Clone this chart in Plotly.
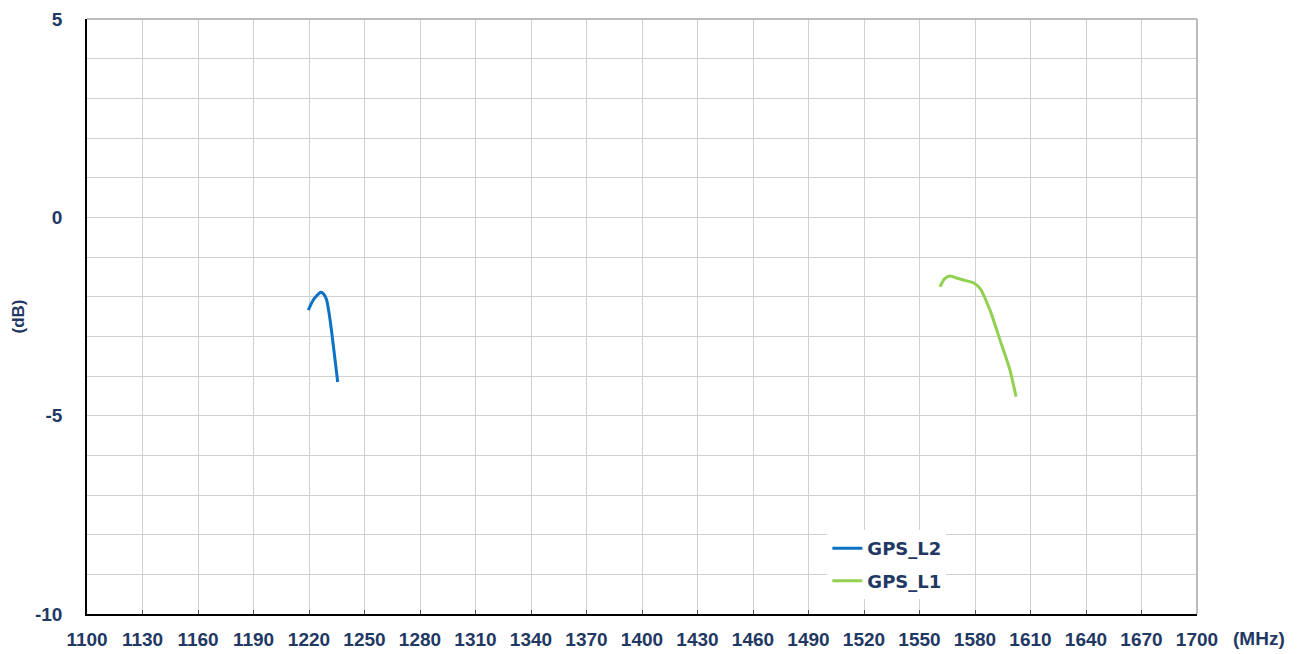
import plotly.graph_objects as go

l2_freq = [1219.6, 1222.5, 1226.3, 1228.0, 1229.5, 1231.4, 1235.5]
l2_db = [-2.34, -2.07, -1.89, -1.94, -2.08, -2.59, -4.15]

l1_freq = [1561.1, 1563.5, 1566.5, 1570.0, 1573.7, 1579.1, 1582.7, 1588.1, 1593.5, 1598.9, 1602.2]
l1_db = [-1.75, -1.55, -1.48, -1.53, -1.58, -1.65, -1.79, -2.34, -3.09, -3.85, -4.52]

x_ticks = list(range(1100, 1701, 30))
y_ticks = [5, 0, -5, -10]

text_color = "#1F3864"
grid_color = "#D0D0D0"
tick_font = dict(family="Liberation Sans, Arial, sans-serif", size=19, color=text_color, weight="bold")

fig = go.Figure()
fig.add_trace(go.Scatter(x=l2_freq, y=l2_db, mode="lines", name="GPS_L2", legendgroup="a",
                         line=dict(color="#0B72C4", width=3, shape="spline", smoothing=0.6)))
fig.add_trace(go.Scatter(x=l1_freq, y=l1_db, mode="lines", name="GPS_L1", legendgroup="b",
                         line=dict(color="#92D050", width=3, shape="spline", smoothing=0.6)))

# page body has an 8px margin, so the figure is sized and offset to compensate
fig.update_layout(
    width=1295, height=646,
    margin=dict(l=79, r=106, t=11, b=40),
    plot_bgcolor="white", paper_bgcolor="white",
    font=dict(family="Liberation Sans, Arial, sans-serif", color=text_color, size=16),
    showlegend=True,
    legend=dict(x=0.667, y=0.141, xanchor="left", yanchor="top", bgcolor="white",
                font=dict(family="DejaVu Sans, sans-serif", size=18, color=text_color, weight="bold"),
                itemwidth=30, tracegroupgap=6),
    xaxis=dict(range=[1100, 1700], tickvals=x_ticks, ticktext=[str(v) for v in x_ticks],
               showgrid=True, gridcolor=grid_color, gridwidth=1,
               showline=True, linecolor="black", linewidth=1.5,
               ticks="inside", ticklen=4, tickcolor="#555", zeroline=False,
               tickfont=tick_font, ticklabelstandoff=7, automargin=False),
    yaxis=dict(range=[-10, 5], tickvals=y_ticks, ticktext=[str(v) for v in y_ticks],
               showgrid=True, gridcolor=grid_color, gridwidth=1,
               minor=dict(dtick=1, showgrid=True, gridcolor=grid_color, gridwidth=1),
               showline=True, linecolor="black", linewidth=1.5, zeroline=False,
               ticks="", tickfont=tick_font, ticklabelstandoff=19, automargin=False,
               title=dict(text="(dB)", font=dict(family="Liberation Sans, Arial, sans-serif",
                                                 size=17, color=text_color, weight="bold"),
                          standoff=6)),
)

# Frame (top and right borders in grey)
fig.add_shape(type="line", xref="paper", yref="paper", x0=0, x1=1, y0=1, y1=1,
              line=dict(color="#A6A6A6", width=1.5))
fig.add_shape(type="line", xref="paper", yref="paper", x0=1, x1=1, y0=0, y1=1,
              line=dict(color="#A6A6A6", width=1.5))

fig.add_annotation(text="(MHz)", xref="paper", yref="paper", x=1.031, y=0, yshift=-24,
                   xanchor="left", yanchor="middle", showarrow=False,
                   font=tick_font)

fig.write_html("out.html")
